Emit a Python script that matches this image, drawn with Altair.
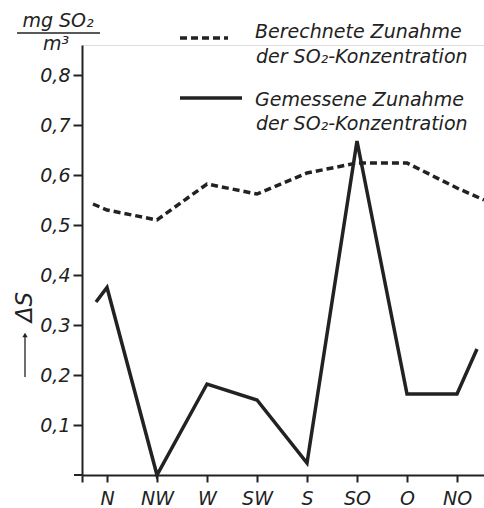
import altair as alt
import pandas as pd

# --- data ---
directions = ["N", "NW", "W", "SW", "S", "SO", "O", "NO"]
# x positions (category slots, N = 0.5 ... NO = 7.5) including the short run-in / run-out pieces
calc_x = [0.22, 0.5, 1.5, 2.5, 3.5, 4.5, 5.5, 6.5, 7.5, 8.04]
calc_y = [0.542, 0.53, 0.51, 0.582, 0.562, 0.604, 0.624, 0.624, 0.574, 0.55]
meas_x = [0.28, 0.5, 1.5, 2.5, 3.5, 4.5, 5.5, 6.5, 7.5, 7.9]
meas_y = [0.346, 0.375, 0.0, 0.182, 0.15, 0.024, 0.668, 0.162, 0.162, 0.252]
y_ticks = [0.1, 0.2, 0.3, 0.4, 0.5, 0.6, 0.7, 0.8]
x_ticks = [0, 0.5, 1.5, 2.5, 3.5, 4.5, 5.5, 6.5, 7.5]

FONT = "DejaVu Sans"
INK = "#222222"

calc = pd.DataFrame({"x": calc_x, "y": calc_y})
meas = pd.DataFrame({"x": meas_x, "y": meas_y})

dir_js = "[" + ",".join(f"'{d}'" for d in directions) + "]"

xscale = alt.Scale(domain=[0, 8.04], nice=False, zero=False)
yscale = alt.Scale(domain=[0, 0.86], nice=False, zero=False)

xenc = alt.X("x:Q", scale=xscale, axis=alt.Axis(
    values=x_ticks, title=None, grid=False,
    labelExpr=f"datum.value < 0.3 ? '' : {dir_js}[floor(datum.value)]",
    labelFont=FONT, labelFontStyle="italic", labelFontSize=19, labelColor=INK,
    tickSize=7, tickWidth=2, tickColor=INK, domainWidth=2, domainColor=INK,
    labelPadding=7, labelFlush=False))
yenc = alt.Y("y:Q", scale=yscale, axis=alt.Axis(
    values=y_ticks, title=None, grid=False,
    labelExpr="replace(format(datum.value, '.1f'), '.', ',')",
    labelFont=FONT, labelFontStyle="italic", labelFontSize=19, labelColor=INK,
    tickSize=9, tickWidth=2, tickColor=INK, domainWidth=2, domainColor=INK,
    labelPadding=3))

dashed = alt.Chart(calc).mark_line(
    color=INK, strokeWidth=3.5, strokeDash=[7, 4]
).encode(x=xenc, y=yenc)

solid = alt.Chart(meas).mark_line(
    color=INK, strokeWidth=3.5
).encode(x=alt.X("x:Q", scale=xscale), y=alt.Y("y:Q", scale=yscale))

# --- annotations (legend, unit fraction, ΔS label) ---
def txt(t, x, y, size=19, align="left", angle=0, baseline="alphabetic"):
    return alt.Chart(pd.DataFrame({"t": [t]})).mark_text(
        text=t, font=FONT, fontStyle="italic", fontSize=size, color=INK,
        align=align, baseline=baseline, angle=angle
    ).encode(x=alt.value(x), y=alt.value(y))

def rule(x1, x2, y1, y2, dash=None, width=2.0):
    kw = dict(color=INK, strokeWidth=width)
    if dash:
        kw["strokeDash"] = dash
    return alt.Chart(pd.DataFrame({"a": [0]})).mark_rule(**kw).encode(
        x=alt.value(x1), x2=alt.value(x2), y=alt.value(y1), y2=alt.value(y2))

legend = [
    rule(98, 146, -7, -7, dash=[7, 4], width=3.5),
    txt("Berechnete Zunahme", 173, -7),
    txt("der SO\u2082-Konzentration", 174, 18),
    rule(98, 160, 53, 53, width=3.5),
    txt("Gemessene Zunahme", 173, 61),
    txt("der SO\u2082-Konzentration", 174, 85),
]

unit = [
    txt("mg SO\u2082", -24, -18, align="center"),
    rule(-65, 18, -12, -12, width=1.5),
    txt("m\u00b3", -26, 5, align="center"),
]

delta = [
    txt("\u0394S", -57, 262, size=23, align="center", angle=270, baseline="middle"),
    rule(-57, -57, 332, 292, width=1.3),
    alt.Chart(pd.DataFrame({"a": [0]})).mark_point(
        shape="triangle-up", filled=True, color=INK, size=28, opacity=1
    ).encode(x=alt.value(-57), y=alt.value(290)),
    rule(-8, 0, 430, 430, width=2),
]

chart = alt.layer(dashed, solid, *legend, *unit, *delta).properties(
    width=402, height=430,
    padding={"left": 82, "top": 45, "right": 0, "bottom": 33},
    autosize=alt.AutoSizeParams(type="none"),
).configure_view(stroke=None).configure(background="white")

chart.save("out.html", embed_options={"renderer": "svg", "actions": False})
